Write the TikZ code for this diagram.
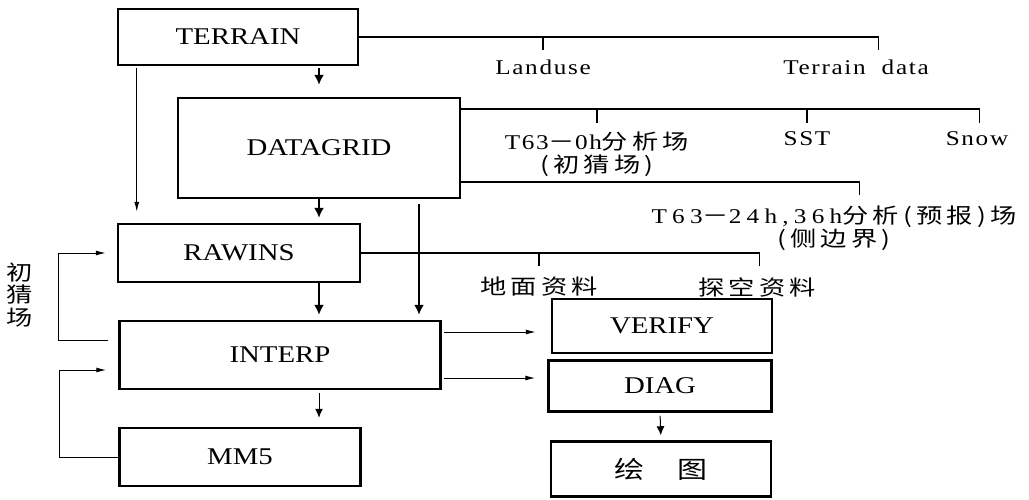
\documentclass[tikz,border=0pt]{standalone}
\usepackage{fontspec}
\setmainfont{Liberation Serif}[FakeStretch=1.2]
\newfontfamily\lblfont{Liberation Serif}[FakeStretch=1.2,LetterSpace=8]
\newfontfamily\widefont{Liberation Serif}[FakeStretch=1.2,LetterSpace=25]
\newfontfamily\cjk{Noto Sans CJK SC}[FakeStretch=1.25,LetterSpace=20]
\usetikzlibrary{positioning,arrows.meta}

\begin{document}
\begin{tikzpicture}[x=1pt,y=-1pt,
  box/.style={draw,line width=2.5pt,inner sep=0pt,font=\fontsize{24}{26}\selectfont},
  lbl/.style={inner sep=0pt,align=center,font=\fontsize{21}{22.5}\lblfont},
  main/.style={line width=1.8pt,-{Latex[length=10pt,width=10pt]}},
  mid/.style={line width=1pt,-{Latex[length=9pt,width=8pt]}},
  thin/.style={line width=1pt,-{Latex[length=10pt,width=5pt]}},
  data/.style={line width=1.2pt}]
  \useasboundingbox (0,0) rectangle (1029,499);
  % program boxes
  \node[box,minimum width=240pt,minimum height=56pt] (terrain) at (238,37) {TERRAIN};
  \node[box,minimum width=282pt,minimum height=100pt] (datagrid) at (319,148) {DATAGRID};
  \node[box,minimum width=242pt,minimum height=58pt] (rawins) at (239,253) {RAWINS};
  \node[box,minimum width=321pt,minimum height=68pt] (interp) at (280,355) {INTERP};
  \node[box,minimum width=241pt,minimum height=58pt] (mm5) at (240,457) {MM5};
  \node[box,minimum width=220pt,minimum height=54pt] (verify) at (662,326) {VERIFY};
  \node[box,minimum width=223pt,minimum height=51pt] (diag) at (660,386) {DIAG};
  \node[box,minimum width=220pt,minimum height=55pt] (plot) at (661,469) {\cjk 绘\hspace{33pt}图};
  % data labels
  \node[lbl] (landuse) at (543,67) {Landuse};
  \node[lbl] (tdata) at (856,67) {Terrain\ \ data};
  \node[lbl] (anal) at (597,154) {T63{\cjk －}0h{\cjk 分析场}\\{\cjk (初猜场)}};
  \node[lbl] (sst) at (807,139) {SST};
  \node[lbl] (snow) at (977,139) {Snow};
  \node[lbl] (bound) at (834,228) {{\widefont T63}{\cjk －}{\widefont 24h,36h}{\cjk 分析(预报)场}\\{\cjk (侧边界)}};
  \node[lbl] (sfc) at (539,287) {\cjk 地面资料};
  \node[lbl] (upper) at (757,287) {\cjk 探空资料};
  \node[lbl] (guess) at (20,295) {\cjk 初\\\cjk 猜\\\cjk 场};
  \coordinate (dgdrop) at ([xshift=100pt]datagrid.south);
  \coordinate (tleft) at ([xshift=20pt]terrain.south west);
  % terrain data
  \draw[data] (terrain.east) -- ++(519,0) -- ++(0,13);
  \draw[data] (terrain.east -| landuse) -- ++(0,13);
  % datagrid data
  \draw[data] ([yshift=39pt]datagrid.east) -- ++(518,0) -- ++(0,14);
  \draw[data] ([yshift=39pt]datagrid.east -| anal) -- ++(0,14);
  \draw[data] ([yshift=39pt]datagrid.east -| sst) -- ++(0,14);
  \draw[data] ([yshift=-34pt]datagrid.east) -- ++(398,0) -- ++(0,13);
  % rawins data
  \draw[data] (rawins.east) -- ++(398,0) -- ++(0,13);
  \draw[data] (rawins.east -| sfc) -- ++(0,13);
  % main flow
  \draw[main,shorten <=2pt,shorten >=12pt] (terrain.south -| datagrid.north) -- (datagrid.north);
  \draw[main,shorten >=5pt] (datagrid.south) -- (rawins.north -| datagrid.south);
  \draw[main,shorten <=5pt,shorten >=5pt] (dgdrop) -- (interp.north -| dgdrop);
  \draw[main,shorten >=5pt] (rawins.south -| datagrid.south) -- (interp.north -| datagrid.south);
  \draw[thin,shorten <=2pt,shorten >=11pt] (tleft) -- (rawins.north -| tleft);
  \draw[mid,shorten <=3pt,shorten >=9pt] (interp.south -| datagrid.south) -- (mm5.north -| datagrid.south);
  \draw[thin,shorten <=2pt,shorten >=15pt] ([yshift=23pt]interp.east) -- ([yshift=23pt]interp.east -| verify.west);
  \draw[thin,shorten <=2pt,shorten >=12pt] ([yshift=-23pt]interp.east) -- ([yshift=-23pt]interp.east -| diag.west);
  \draw[mid,shorten <=3pt,shorten >=5pt] (diag.south) -- (plot.north);
  % feedback loops
  \draw[thin,shorten >=11pt] ([shift={(-10pt,15pt)}]interp.west) -| ([xshift=-58pt]rawins.west) -- (rawins.west);
  \draw[thin,shorten >=12pt] (mm5.west) -| ([shift={(-59pt,-15pt)}]interp.west) -- ([yshift=-15pt]interp.west);
\end{tikzpicture}
\end{document}
